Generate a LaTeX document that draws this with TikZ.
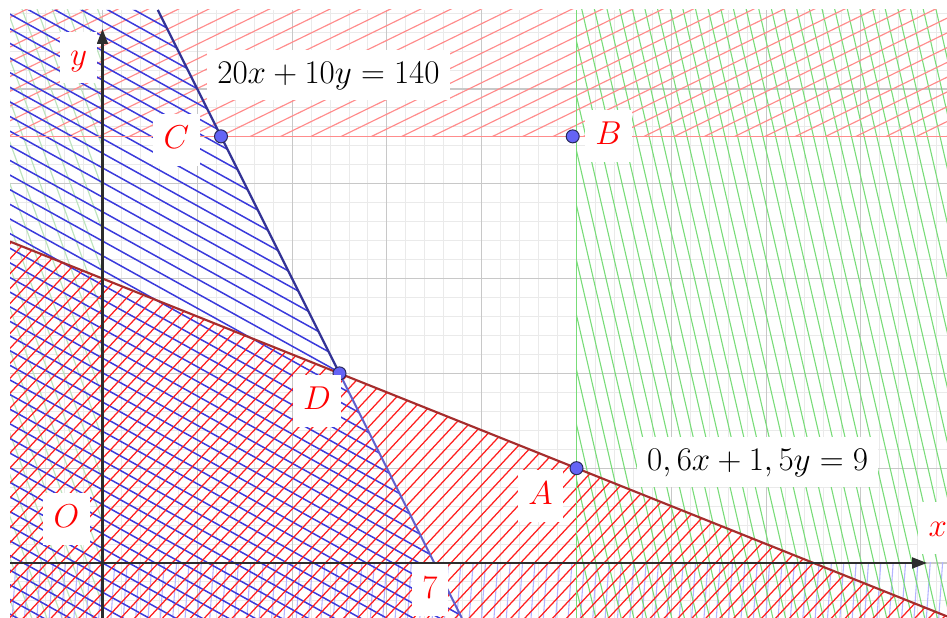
\RequirePackage{fix-cm}
\documentclass[tikz,border=0pt]{standalone}
\usetikzlibrary{arrows.meta}
\definecolor{gridmajor}{RGB}{200,200,200}
\definecolor{gridminor}{RGB}{234,234,234}
\definecolor{palered}{RGB}{255,140,140}
\definecolor{hred}{RGB}{255,30,30}
\definecolor{hblue}{RGB}{58,58,220}
\definecolor{hgreen}{RGB}{120,220,120}
\definecolor{palegreen}{RGB}{190,228,190}
\definecolor{paleblue}{RGB}{180,180,255}
\definecolor{redline}{RGB}{165,45,45}
\definecolor{blueline}{RGB}{50,50,150}
\definecolor{bluelinelight}{RGB}{95,95,205}
\definecolor{axiscol}{RGB}{45,45,45}
\definecolor{ptfill}{RGB}{100,100,245}
\definecolor{ptdraw}{RGB}{40,40,90}
\newcommand{\hatchlines}[4]{%
  \begin{scope}[rotate=#2]
    \foreach \k in {-#4,...,#4}{\draw[#1] (-32,{\k*#3}) -- (32,{\k*#3});}
  \end{scope}}
\tikzset{
  lbl/.style={fill=white, text=red, inner xsep=6.3pt, inner ysep=0pt,
    text height=15pt, text depth=5pt, minimum height=31pt,
    font=\fontsize{19.85}{24}\selectfont},
  eqlbl/.style={lbl, text=black, minimum height=30pt},
  pt/.style={circle, fill=ptfill, draw=ptdraw, line width=0.6pt, inner sep=0pt, minimum size=7.8pt},
  minorgrid/.style={gridminor, line width=0.55pt},
  majorgrid/.style={gridmajor, line width=0.65pt},
  axisline/.style={axiscol, line width=1.5pt, -{Triangle[length=9pt,width=6.5pt]}},
  hpalered/.style={palered, line width=0.7pt},
  hredlow/.style={hred, line width=0.75pt},
  hbluehatch/.style={hblue, line width=0.9pt},
  hgreenhatch/.style={hgreen, line width=0.65pt},
  hpalegreen/.style={palegreen, line width=0.7pt},
  hpaleblue/.style={paleblue, line width=0.65pt},
}
\def\xmin{-1.951}
\def\xmax{17.816}
\def\ymin{-1.1603}
\def\ymax{11.667}
\begin{document}
\begin{tikzpicture}
\useasboundingbox (-2.1624,-1.1603) rectangle (17.816,11.877);
\clip (-2.1624,-1.1603) rectangle (17.816,11.877);
\fill[white] (-2.1624,-1.1603) rectangle (17.816,11.877);

\begin{scope}
  \clip (\xmin,\ymin) rectangle (\xmax,\ymax);
  % grid
  \draw[minorgrid, step=0.4] (\xmin,\ymin) grid (\xmax,\ymax);
  \draw[majorgrid, step=2] (\xmin,\ymin) grid (\xmax,\ymax);
  % x < 0 (pale green)
  \begin{scope}
    \clip (\xmin,\ymin) rectangle (0,\ymax);
    \hatchlines{hpalegreen}{-70}{0.3}{80}
  \end{scope}
  % y < 0 (pale blue)
  \begin{scope}
    \clip (\xmin,\ymin) rectangle (\xmax,0);
    \hatchlines{hpaleblue}{86}{0.26}{88}
  \end{scope}
  % x > 10 (green)
  \begin{scope}
    \clip (10,\ymin) rectangle (\xmax,\ymax);
    \hatchlines{hgreenhatch}{-77}{0.26}{88}
  \end{scope}
  % y > 9 (pale red)
  \begin{scope}
    \clip (\xmin,9) rectangle (\xmax,\ymax);
    \hatchlines{hpalered}{26}{0.28}{84}
  \end{scope}
  % 20x+10y < 140 (blue)
  \begin{scope}
    \clip (\xmin,\ymin) -- (7.5802,\ymin) -- (1.1665,\ymax) -- (\xmin,\ymax) -- cycle;
    \hatchlines{hbluehatch}{-29}{0.27}{85}
  \end{scope}
  % 0.6x+1.5y < 9 (red)
  \begin{scope}
    \clip (\xmin,\ymin) -- (\xmax,\ymin) -- (\xmax,-1.1264) -- (\xmin,6.7804) -- cycle;
    \hatchlines{hredlow}{47}{0.215}{106}
  \end{scope}

  % boundary lines
  \coordinate (y9L) at (\xmin,9);
  \coordinate (y9R) at (\xmax,9);
  \coordinate (x10B) at (10,\ymin);
  \coordinate (x10T) at (10,\ymax);
  \coordinate (rL) at (\xmin,6.7804);
  \coordinate (rR) at (\xmax,-1.1264);
  \coordinate (bT) at (1.1665,\ymax);
  \coordinate (bB) at (7.5802,\ymin);
  \coordinate (Dc) at (5,4);
  \draw[palered, line width=0.75pt] (y9L) -- (y9R);
  \draw[hgreen, line width=0.75pt] (x10B) -- (x10T);
  \draw[bluelinelight, line width=1.2pt] (Dc) -- (bB);
  \draw[blueline, line width=1.3pt] (bT) -- (Dc);
  \draw[redline, line width=1.3pt] (rL) -- (rR);

  % axes
  \coordinate (xs) at (\xmin,0);
  \coordinate (xe) at (17.394,0);
  \coordinate (ys) at (0,\ymin);
  \coordinate (ye) at (0,11.266);
  \draw[axisline] (xs) -- (xe);
  \draw[axisline] (ys) -- (ye);

  % points
  \node[pt] (C) at (2.5,9) {};
  \node[pt] (B) at (9.92,9) {};
  \node[pt] (D) at (5,4) {};
  \node[pt] (A) at (10,2) {};

  % labels
  \node[lbl] (ylbl) at (-0.506,10.665) {$y$};
  \node[lbl] (xlbl) at (17.62,0.738) {$x$};
  \node[lbl] (Olbl) at (-0.759,0.928) {$O$};
  \node[lbl] (Clbl) at (1.561,8.924) {$C$};
  \node[lbl] (Blbl) at (10.675,9.008) {$B$};
  \node[lbl] (Dlbl) at (4.525,3.418) {$D$};
  \node[lbl] (Albl) at (9.241,1.414) {$A$};
  \node[lbl] (sevenlbl) at (6.909,-0.570) {$7$};
  \node[eqlbl] (eq1) at (4.768,10.295) {$20x+10y=140$};
  \node[eqlbl] (eq2) at (13.819,2.120) {$0,6x+1,5y=9$};
\end{scope}
\end{tikzpicture}
\end{document}
